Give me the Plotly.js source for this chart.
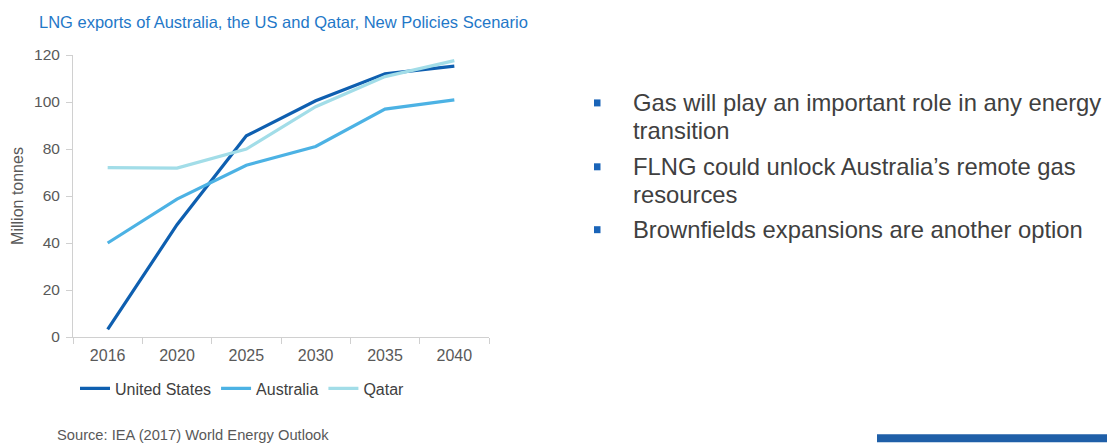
<!DOCTYPE html>
<html>
<head>
<meta charset="utf-8">
<script src="https://cdn.plot.ly/plotly-3.0.1.min.js"></script>
<style>
html,body{margin:0;padding:0;background:#fff;}
#chart{width:1107px;height:443px;}
</style>
</head>
<body>
<div id="chart"></div>
<script>
// Data
const years = ["2016", "2020", "2025", "2030", "2035", "2040"];
const unitedStates = [3.2, 47.8, 85.6, 100.5, 112, 115.3];
const australia = [40.0, 58.7, 73.1, 81.1, 97.0, 100.9];
const qatar = [72.1, 71.9, 80.0, 98.0, 110.8, 117.6];
const seriesNames = ["United States", "Australia", "Qatar"];
const yTicks = [0, 20, 40, 60, 80, 100, 120];
const titleText = "LNG exports of Australia, the US and Qatar, New Policies Scenario";
const yTitle = "Million tonnes";
const sourceText = "Source: IEA (2017) World Energy Outlook";
const bullets = [
  ["Gas will play an important role in any energy", "transition"],
  ["FLNG could unlock Australia\u2019s remote gas", "resources"],
  ["Brownfields expansions are another option"]
];

// Plot area in pixels
const W = 1107, H = 443;
const L = 73, R = 489, T = 55, B = 337.5;
const px = x => (x - L) / (R - L);
const py = y => (B - y) / (B - T);

const colors = ["#0e5fb0", "#4cb2e4", "#a2dde8"];
const values = [unitedStates, australia, qatar];
const traces = values.map((v, i) => ({
  type: "scatter", mode: "lines", name: seriesNames[i],
  x: years, y: v,
  line: {color: colors[i], width: 3.2}
}));

const annotations = [
  {text: titleText, xref: "paper", yref: "paper", x: px(37), y: py(22),
   xanchor: "left", yanchor: "middle", showarrow: false,
   font: {family: "Liberation Sans, Arial", size: 16.5, color: "#1f78c8"}},
  {text: sourceText, xref: "paper", yref: "paper", x: px(55), y: py(436),
   xanchor: "left", yanchor: "middle", showarrow: false,
   font: {family: "Liberation Sans, Arial", size: 14.7, color: "#595959"}}
];
const shapes = [
  {type: "rect", xref: "paper", yref: "paper", x0: px(877), x1: px(1107), y0: py(435), y1: py(443),
   fillcolor: "#1f5fa8", line: {width: 0}}
];
const lineY = [[103, 131], [167, 195], [230]];
bullets.forEach((lines, i) => {
  lines.forEach((t, j) => {
    annotations.push({text: t, xref: "paper", yref: "paper", x: px(631), y: py(lineY[i][j]),
      xanchor: "left", yanchor: "middle", showarrow: false,
      font: {family: "Liberation Sans, Arial", size: 23.8, color: "#404040"}});
  });
  const cy = lineY[i][0];
  shapes.push({type: "rect", xref: "paper", yref: "paper", x0: px(594), x1: px(600.5), y0: py(cy - 3.5), y1: py(cy + 3.5),
    fillcolor: "#1a64b8", line: {width: 0}});
});

const layout = {
  width: W, height: H,
  margin: {l: L, r: W - R, t: T, b: H - B, pad: 0},
  paper_bgcolor: "#ffffff", plot_bgcolor: "#ffffff",
  font: {family: "Liberation Sans, Arial", color: "#595959"},
  showlegend: true,
  legend: {orientation: "h", x: px(75), y: py(389), xanchor: "left", yanchor: "middle",
    font: {size: 16, color: "#404040"}, bgcolor: "rgba(0,0,0,0)", tracegroupgap: 0},
  xaxis: {
    type: "category", range: [-0.5, 5.5], showgrid: false, zeroline: false,
    showline: true, linecolor: "#d0d0d0", linewidth: 1,
    ticks: "outside", tickson: "boundaries", ticklen: 6, tickcolor: "#d0d0d0",
    ticklabelstandoff: 4,
    tickfont: {size: 16, color: "#595959"}, fixedrange: true
  },
  yaxis: {
    range: [0, 120], tickvals: yTicks, showgrid: false, zeroline: false,
    showline: true, linecolor: "#d0d0d0", linewidth: 1,
    ticks: "outside", ticklen: 6, tickcolor: "#d0d0d0",
    ticklabelstandoff: 3,
    tickfont: {size: 15.5, color: "#595959"},
    title: {text: yTitle, font: {size: 16, color: "#595959"}, standoff: 6},
    fixedrange: true
  },
  annotations: annotations,
  shapes: shapes
};

Plotly.newPlot("chart", traces, layout, {displayModeBar: false, staticPlot: true});
</script>
</body>
</html>
